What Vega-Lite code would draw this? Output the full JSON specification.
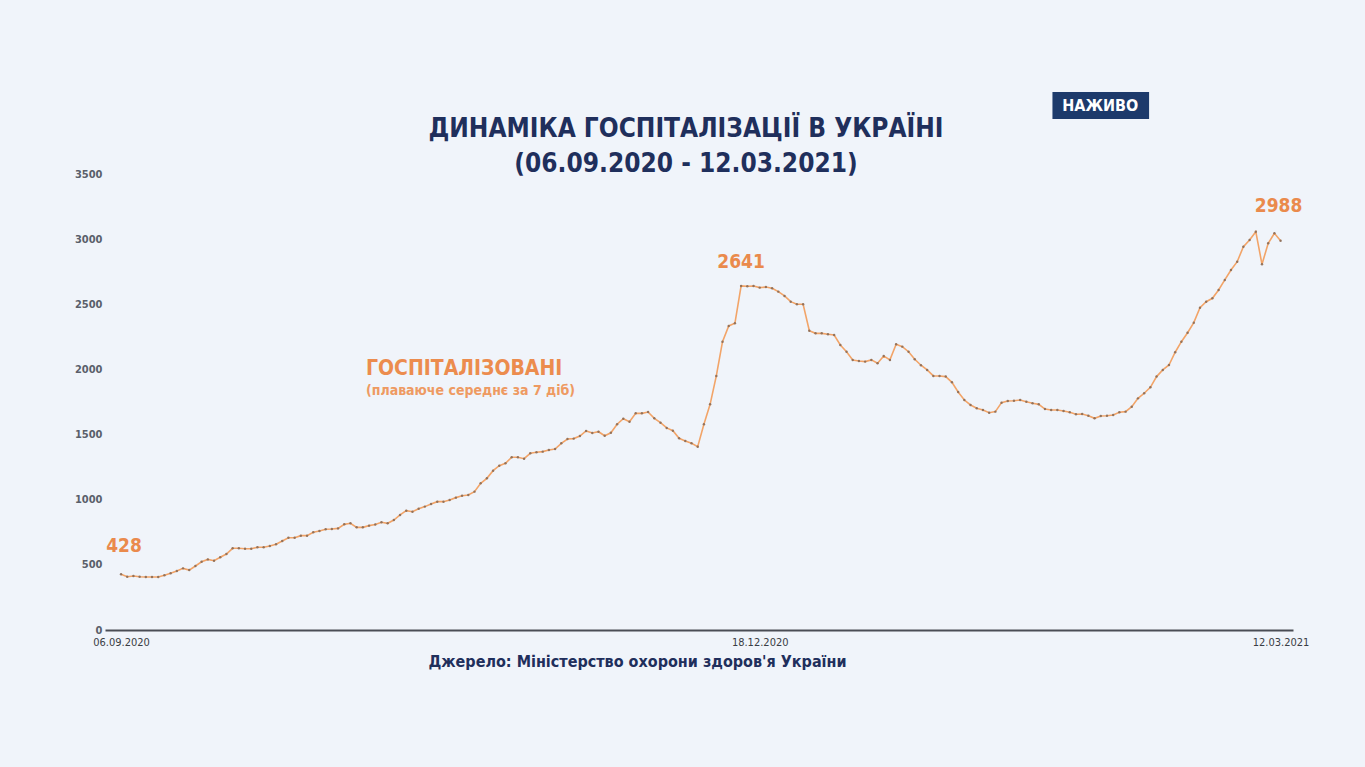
{
  "$schema": "https://vega.github.io/schema/vega-lite/v6.json",
  "width": 1188,
  "height": 456,
  "autosize": {"type": "none"},
  "padding": {"left": 105, "top": 174, "right": 72, "bottom": 137},
  "background": "#f0f4fa",
  "config": {"view": {"stroke": null}, "font": "DejaVu Sans Condensed, Roboto, sans-serif"},
  "title": {
    "text": ["ДИНАМІКА ГОСПІТАЛІЗАЦІЇ В УКРАЇНІ", "(06.09.2020 - 12.03.2021)"],
    "font": "DejaVu Sans Condensed, Roboto, sans-serif",
    "fontSize": 26,
    "fontWeight": "bold",
    "color": "#1f2f5c",
    "lineHeight": 35,
    "anchor": "middle",
    "frame": "group",
    "dx": -13,
    "dy": 87,
    "offset": 2
  },
  "datasets": {
    "hosp": [
      {"date": "2020-09-06", "value": 428}, {"date": "2020-09-07", "value": 409}, {"date": "2020-09-08", "value": 414}, {"date": "2020-09-09", "value": 409},
      {"date": "2020-09-10", "value": 407}, {"date": "2020-09-11", "value": 407}, {"date": "2020-09-12", "value": 407}, {"date": "2020-09-13", "value": 420},
      {"date": "2020-09-14", "value": 435}, {"date": "2020-09-15", "value": 453}, {"date": "2020-09-16", "value": 473}, {"date": "2020-09-17", "value": 460},
      {"date": "2020-09-18", "value": 491}, {"date": "2020-09-19", "value": 524}, {"date": "2020-09-20", "value": 542}, {"date": "2020-09-21", "value": 532},
      {"date": "2020-09-22", "value": 558}, {"date": "2020-09-23", "value": 583}, {"date": "2020-09-24", "value": 627}, {"date": "2020-09-25", "value": 627},
      {"date": "2020-09-26", "value": 624}, {"date": "2020-09-27", "value": 624}, {"date": "2020-09-28", "value": 635}, {"date": "2020-09-29", "value": 635},
      {"date": "2020-09-30", "value": 645}, {"date": "2020-10-01", "value": 658}, {"date": "2020-10-02", "value": 683}, {"date": "2020-10-03", "value": 708},
      {"date": "2020-10-04", "value": 708}, {"date": "2020-10-05", "value": 724}, {"date": "2020-10-06", "value": 724}, {"date": "2020-10-07", "value": 750},
      {"date": "2020-10-08", "value": 760}, {"date": "2020-10-09", "value": 773}, {"date": "2020-10-10", "value": 775}, {"date": "2020-10-11", "value": 780},
      {"date": "2020-10-12", "value": 811}, {"date": "2020-10-13", "value": 819}, {"date": "2020-10-14", "value": 788}, {"date": "2020-10-15", "value": 788},
      {"date": "2020-10-16", "value": 801}, {"date": "2020-10-17", "value": 809}, {"date": "2020-10-18", "value": 827}, {"date": "2020-10-19", "value": 819},
      {"date": "2020-10-20", "value": 844}, {"date": "2020-10-21", "value": 883}, {"date": "2020-10-22", "value": 916}, {"date": "2020-10-23", "value": 908},
      {"date": "2020-10-24", "value": 931}, {"date": "2020-10-25", "value": 947}, {"date": "2020-10-26", "value": 967}, {"date": "2020-10-27", "value": 985},
      {"date": "2020-10-28", "value": 985}, {"date": "2020-10-29", "value": 998}, {"date": "2020-10-30", "value": 1016}, {"date": "2020-10-31", "value": 1031},
      {"date": "2020-11-01", "value": 1036}, {"date": "2020-11-02", "value": 1062}, {"date": "2020-11-03", "value": 1126}, {"date": "2020-11-04", "value": 1164},
      {"date": "2020-11-05", "value": 1223}, {"date": "2020-11-06", "value": 1261}, {"date": "2020-11-07", "value": 1280}, {"date": "2020-11-08", "value": 1326},
      {"date": "2020-11-09", "value": 1326}, {"date": "2020-11-10", "value": 1315}, {"date": "2020-11-11", "value": 1356}, {"date": "2020-11-12", "value": 1364},
      {"date": "2020-11-13", "value": 1369}, {"date": "2020-11-14", "value": 1382}, {"date": "2020-11-15", "value": 1389}, {"date": "2020-11-16", "value": 1433},
      {"date": "2020-11-17", "value": 1466}, {"date": "2020-11-18", "value": 1469}, {"date": "2020-11-19", "value": 1489}, {"date": "2020-11-20", "value": 1528},
      {"date": "2020-11-21", "value": 1512}, {"date": "2020-11-22", "value": 1522}, {"date": "2020-11-23", "value": 1491}, {"date": "2020-11-24", "value": 1514},
      {"date": "2020-11-25", "value": 1579}, {"date": "2020-11-26", "value": 1622}, {"date": "2020-11-27", "value": 1599}, {"date": "2020-11-28", "value": 1663},
      {"date": "2020-11-29", "value": 1663}, {"date": "2020-11-30", "value": 1673}, {"date": "2020-12-01", "value": 1625}, {"date": "2020-12-02", "value": 1591},
      {"date": "2020-12-03", "value": 1551}, {"date": "2020-12-04", "value": 1530}, {"date": "2020-12-05", "value": 1471}, {"date": "2020-12-06", "value": 1451},
      {"date": "2020-12-07", "value": 1433}, {"date": "2020-12-08", "value": 1407}, {"date": "2020-12-09", "value": 1579}, {"date": "2020-12-10", "value": 1732},
      {"date": "2020-12-11", "value": 1950}, {"date": "2020-12-12", "value": 2213}, {"date": "2020-12-13", "value": 2334}, {"date": "2020-12-14", "value": 2354},
      {"date": "2020-12-15", "value": 2641}, {"date": "2020-12-16", "value": 2638}, {"date": "2020-12-17", "value": 2640}, {"date": "2020-12-18", "value": 2628},
      {"date": "2020-12-19", "value": 2632}, {"date": "2020-12-20", "value": 2623}, {"date": "2020-12-21", "value": 2597}, {"date": "2020-12-22", "value": 2564},
      {"date": "2020-12-23", "value": 2520}, {"date": "2020-12-24", "value": 2500}, {"date": "2020-12-25", "value": 2500}, {"date": "2020-12-26", "value": 2297},
      {"date": "2020-12-27", "value": 2277}, {"date": "2020-12-28", "value": 2277}, {"date": "2020-12-29", "value": 2270}, {"date": "2020-12-30", "value": 2264},
      {"date": "2020-12-31", "value": 2188}, {"date": "2021-01-01", "value": 2136}, {"date": "2021-01-02", "value": 2073}, {"date": "2021-01-03", "value": 2065},
      {"date": "2021-01-04", "value": 2060}, {"date": "2021-01-05", "value": 2073}, {"date": "2021-01-06", "value": 2047}, {"date": "2021-01-07", "value": 2103},
      {"date": "2021-01-08", "value": 2073}, {"date": "2021-01-09", "value": 2193}, {"date": "2021-01-10", "value": 2175}, {"date": "2021-01-11", "value": 2136},
      {"date": "2021-01-12", "value": 2078}, {"date": "2021-01-13", "value": 2032}, {"date": "2021-01-14", "value": 1996}, {"date": "2021-01-15", "value": 1950},
      {"date": "2021-01-16", "value": 1950}, {"date": "2021-01-17", "value": 1945}, {"date": "2021-01-18", "value": 1901}, {"date": "2021-01-19", "value": 1827},
      {"date": "2021-01-20", "value": 1765}, {"date": "2021-01-21", "value": 1727}, {"date": "2021-01-22", "value": 1702}, {"date": "2021-01-23", "value": 1689},
      {"date": "2021-01-24", "value": 1668}, {"date": "2021-01-25", "value": 1676}, {"date": "2021-01-26", "value": 1745}, {"date": "2021-01-27", "value": 1758},
      {"date": "2021-01-28", "value": 1760}, {"date": "2021-01-29", "value": 1765}, {"date": "2021-01-30", "value": 1752}, {"date": "2021-01-31", "value": 1740},
      {"date": "2021-02-01", "value": 1732}, {"date": "2021-02-02", "value": 1696}, {"date": "2021-02-03", "value": 1689}, {"date": "2021-02-04", "value": 1689},
      {"date": "2021-02-05", "value": 1681}, {"date": "2021-02-06", "value": 1671}, {"date": "2021-02-07", "value": 1656}, {"date": "2021-02-08", "value": 1658},
      {"date": "2021-02-09", "value": 1645}, {"date": "2021-02-10", "value": 1625}, {"date": "2021-02-11", "value": 1643}, {"date": "2021-02-12", "value": 1645},
      {"date": "2021-02-13", "value": 1650}, {"date": "2021-02-14", "value": 1671}, {"date": "2021-02-15", "value": 1676}, {"date": "2021-02-16", "value": 1714},
      {"date": "2021-02-17", "value": 1778}, {"date": "2021-02-18", "value": 1817}, {"date": "2021-02-19", "value": 1863}, {"date": "2021-02-20", "value": 1945},
      {"date": "2021-02-21", "value": 1996}, {"date": "2021-02-22", "value": 2034}, {"date": "2021-02-23", "value": 2132}, {"date": "2021-02-24", "value": 2213},
      {"date": "2021-02-25", "value": 2282}, {"date": "2021-02-26", "value": 2359}, {"date": "2021-02-27", "value": 2474}, {"date": "2021-02-28", "value": 2520},
      {"date": "2021-03-01", "value": 2546}, {"date": "2021-03-02", "value": 2610}, {"date": "2021-03-03", "value": 2687}, {"date": "2021-03-04", "value": 2763},
      {"date": "2021-03-05", "value": 2827}, {"date": "2021-03-06", "value": 2942}, {"date": "2021-03-07", "value": 2994}, {"date": "2021-03-08", "value": 3057},
      {"date": "2021-03-09", "value": 2807}, {"date": "2021-03-10", "value": 2968}, {"date": "2021-03-11", "value": 3045}, {"date": "2021-03-12", "value": 2988}
    ]
  },
  "data": {"name": "hosp"},
  "encoding": {
    "x": {
      "field": "date",
      "type": "temporal",
      "scale": {
        "type": "utc",
        "domain": [
          {"year": 2020, "month": 9, "date": 3, "hours": 10, "utc": true},
          {"year": 2021, "month": 3, "date": 14, "utc": true}
        ]
      },
      "axis": {
        "title": "Джерело: Міністерство охорони здоров'я України",
        "values": [
          {"year": 2020, "month": 9, "date": 6, "utc": true},
          {"year": 2020, "month": 12, "date": 18, "utc": true},
          {"year": 2021, "month": 3, "date": 12, "utc": true}
        ],
        "labelExpr": "utcFormat(datum.value, '%d.%m.%Y')",
        "grid": false,
        "ticks": false,
        "domainColor": "#4a4d55",
        "domainWidth": 2,
        "labelFont": "DejaVu Sans Condensed, Roboto, sans-serif",
        "labelFontSize": 11,
        "labelColor": "#3a3d45",
        "labelPadding": 6,
        "labelFlush": false,
        "labelOverlap": false,
        "titleFont": "DejaVu Sans Condensed, Roboto, sans-serif",
        "titleFontSize": 16,
        "titleFontWeight": "bold",
        "titleColor": "#1f2f5c",
        "titleX": 532,
        "titleY": 36,
        "titleAlign": "center",
        "titleBaseline": "alphabetic"
      }
    },
    "y": {
      "field": "value",
      "type": "quantitative",
      "scale": {"domain": [0, 3500], "nice": false},
      "axis": {
        "title": null,
        "values": [0, 500, 1000, 1500, 2000, 2500, 3000, 3500],
        "format": "d",
        "grid": false,
        "ticks": false,
        "domain": false,
        "labelFont": "DejaVu Sans Condensed, Roboto, sans-serif",
        "labelFontSize": 11,
        "labelFontWeight": "bold",
        "labelColor": "#5a5f6a",
        "labelPadding": 3
      }
    }
  },
  "layer": [
    {"mark": {"type": "line", "color": "#f2a468", "strokeWidth": 1.6}},
    {"mark": {"type": "point", "filled": true, "size": 6, "color": "#8b6b55", "opacity": 0.9}},
    {
      "transform": [{"filter": "datum.value == 428"}],
      "mark": {"type": "text", "fontSize": 19, "fontWeight": "bold", "color": "#ea8a4c", "baseline": "alphabetic", "align": "center", "dx": 3, "dy": -22},
      "encoding": {"text": {"field": "value", "type": "quantitative"}}
    },
    {
      "transform": [{"filter": "datum.value == 2641"}],
      "mark": {"type": "text", "fontSize": 19, "fontWeight": "bold", "color": "#ea8a4c", "baseline": "alphabetic", "align": "center", "dx": 0, "dy": -18},
      "encoding": {"text": {"field": "value", "type": "quantitative"}}
    },
    {
      "transform": [{"filter": "datum.value == 2988"}],
      "mark": {"type": "text", "fontSize": 19, "fontWeight": "bold", "color": "#ea8a4c", "baseline": "alphabetic", "align": "center", "dx": -2, "dy": -29},
      "encoding": {"text": {"field": "value", "type": "quantitative"}}
    },
    {
      "transform": [{"filter": "datum.value == 428"}],
      "mark": {"type": "text", "fontSize": 21, "fontWeight": "bold", "color": "#ec8c4e", "align": "left", "baseline": "alphabetic"},
      "encoding": {
        "x": {"datum": {"year": 2020, "month": 10, "date": 15, "hours": 12, "utc": true}, "type": "temporal"},
        "y": {"datum": 1957, "type": "quantitative"},
        "text": {"value": "ГОСПІТАЛІЗОВАНІ"}
      }
    },
    {
      "transform": [{"filter": "datum.value == 428"}],
      "mark": {"type": "text", "fontSize": 14, "fontWeight": "bold", "color": "#ee9a62", "align": "left", "baseline": "alphabetic"},
      "encoding": {
        "x": {"datum": {"year": 2020, "month": 10, "date": 15, "hours": 12, "utc": true}, "type": "temporal"},
        "y": {"datum": 1800, "type": "quantitative"},
        "text": {"value": "(плаваюче середнє за 7 діб)"}
      }
    },
    {
      "transform": [{"filter": "datum.value == 428"}],
      "mark": {"type": "rect", "color": "#1d3a6b"},
      "encoding": {
        "x": {"datum": {"year": 2021, "month": 2, "date": 3, "hours": 5, "utc": true}, "type": "temporal"},
        "x2": {"datum": {"year": 2021, "month": 2, "date": 18, "hours": 19, "utc": true}},
        "y": {"datum": 4129, "type": "quantitative"},
        "y2": {"datum": 3922}
      }
    },
    {
      "transform": [{"filter": "datum.value == 428"}],
      "mark": {"type": "text", "fontSize": 16, "fontWeight": "bold", "color": "#ffffff", "align": "center", "baseline": "middle"},
      "encoding": {
        "x": {"datum": {"year": 2021, "month": 2, "date": 10, "hours": 22, "utc": true}, "type": "temporal"},
        "y": {"datum": 4022, "type": "quantitative"},
        "text": {"value": "НАЖИВО"}
      }
    }
  ]
}
